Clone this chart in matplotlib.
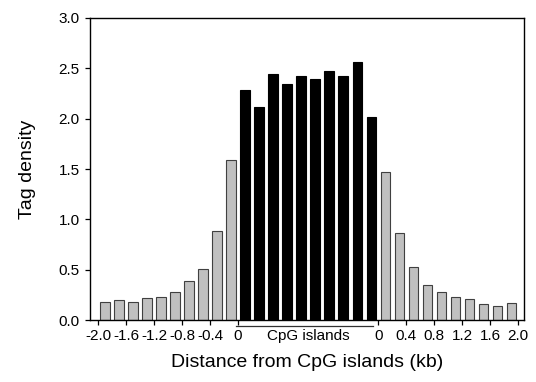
import numpy as np
import matplotlib
matplotlib.use('Agg')
import matplotlib.pyplot as plt
import matplotlib.transforms as mtransforms

plt.rcParams['font.family'] = ['Liberation Sans', 'DejaVu Sans']

# tag density per bin (upstream, inside CpG islands, downstream)
upstream = [0.18, 0.20, 0.18, 0.215, 0.225, 0.275, 0.385, 0.505, 0.885, 1.585]
island = [2.28, 2.12, 2.44, 2.34, 2.42, 2.39, 2.47, 2.42, 2.56, 2.02]
downstream = [1.475, 0.86, 0.53, 0.35, 0.275, 0.225, 0.21, 0.16, 0.145, 0.17]

left_labels = ['-2.0', '-1.6', '-1.2', '-0.8', '-0.4', '0']
right_labels = ['0', '0.4', '0.8', '1.2', '1.6', '2.0']

values = upstream + island + downstream
x = np.arange(len(values))
colors = ['#c0c0c0'] * len(upstream) + ['black'] * len(island) + ['#c0c0c0'] * len(downstream)
edges = ['#404040'] * len(upstream) + ['black'] * len(island) + ['#404040'] * len(downstream)

fig = plt.figure(figsize=(5.36, 3.82), dpi=100)
ax = fig.add_axes([0.168, 0.162, 0.81, 0.791])

ax.bar(x, values, width=0.66, color=colors, edgecolor=edges, linewidth=0.8)

ax.set_xlim(-1.07, 29.93)
ax.set_ylim(0, 3.0)
ax.set_yticks([0, 0.5, 1.0, 1.5, 2.0, 2.5, 3.0])
ax.set_yticklabels(['0.0', '0.5', '1.0', '1.5', '2.0', '2.5', '3.0'])

n_up = len(upstream)
n_isl = len(island)
left_ticks = np.arange(-0.5, n_up, 2)
right_ticks = np.arange(n_up + n_isl - 0.5, len(values), 2)
ax.set_xticks(list(left_ticks) + list(right_ticks))
ax.set_xticklabels(left_labels + right_labels)
ax.set_xticks([n_up + n_isl / 2 - 0.5], minor=True)
ax.set_xticklabels(['CpG islands'], minor=True)

ax.tick_params(axis='both', which='major', direction='out', length=3.5, width=0.9,
               labelsize=11, pad=3)
ax.tick_params(axis='x', which='minor', length=0, labelsize=11, pad=6.5)
ax.tick_params(axis='y', pad=4)

for s in ax.spines.values():
    s.set_linewidth(1.0)

# bracket under the CpG island bins
trans = mtransforms.blended_transform_factory(ax.transData, ax.transAxes)
ax.plot([n_up - 0.64, n_up + n_isl - 0.86], [-0.02, -0.02], color='#303030',
        linewidth=0.9, transform=trans, clip_on=False)

ax.set_ylabel('Tag density', fontsize=14, labelpad=16)
ax.set_xlabel('Distance from CpG islands (kb)', fontsize=14, labelpad=8)

# panel letter, cropped at the corner as in the original figure
fig.text(-0.004, 1.012, 'B', fontsize=14, fontweight='bold', ha='left', va='center')

fig.savefig('out.png', dpi=100)
